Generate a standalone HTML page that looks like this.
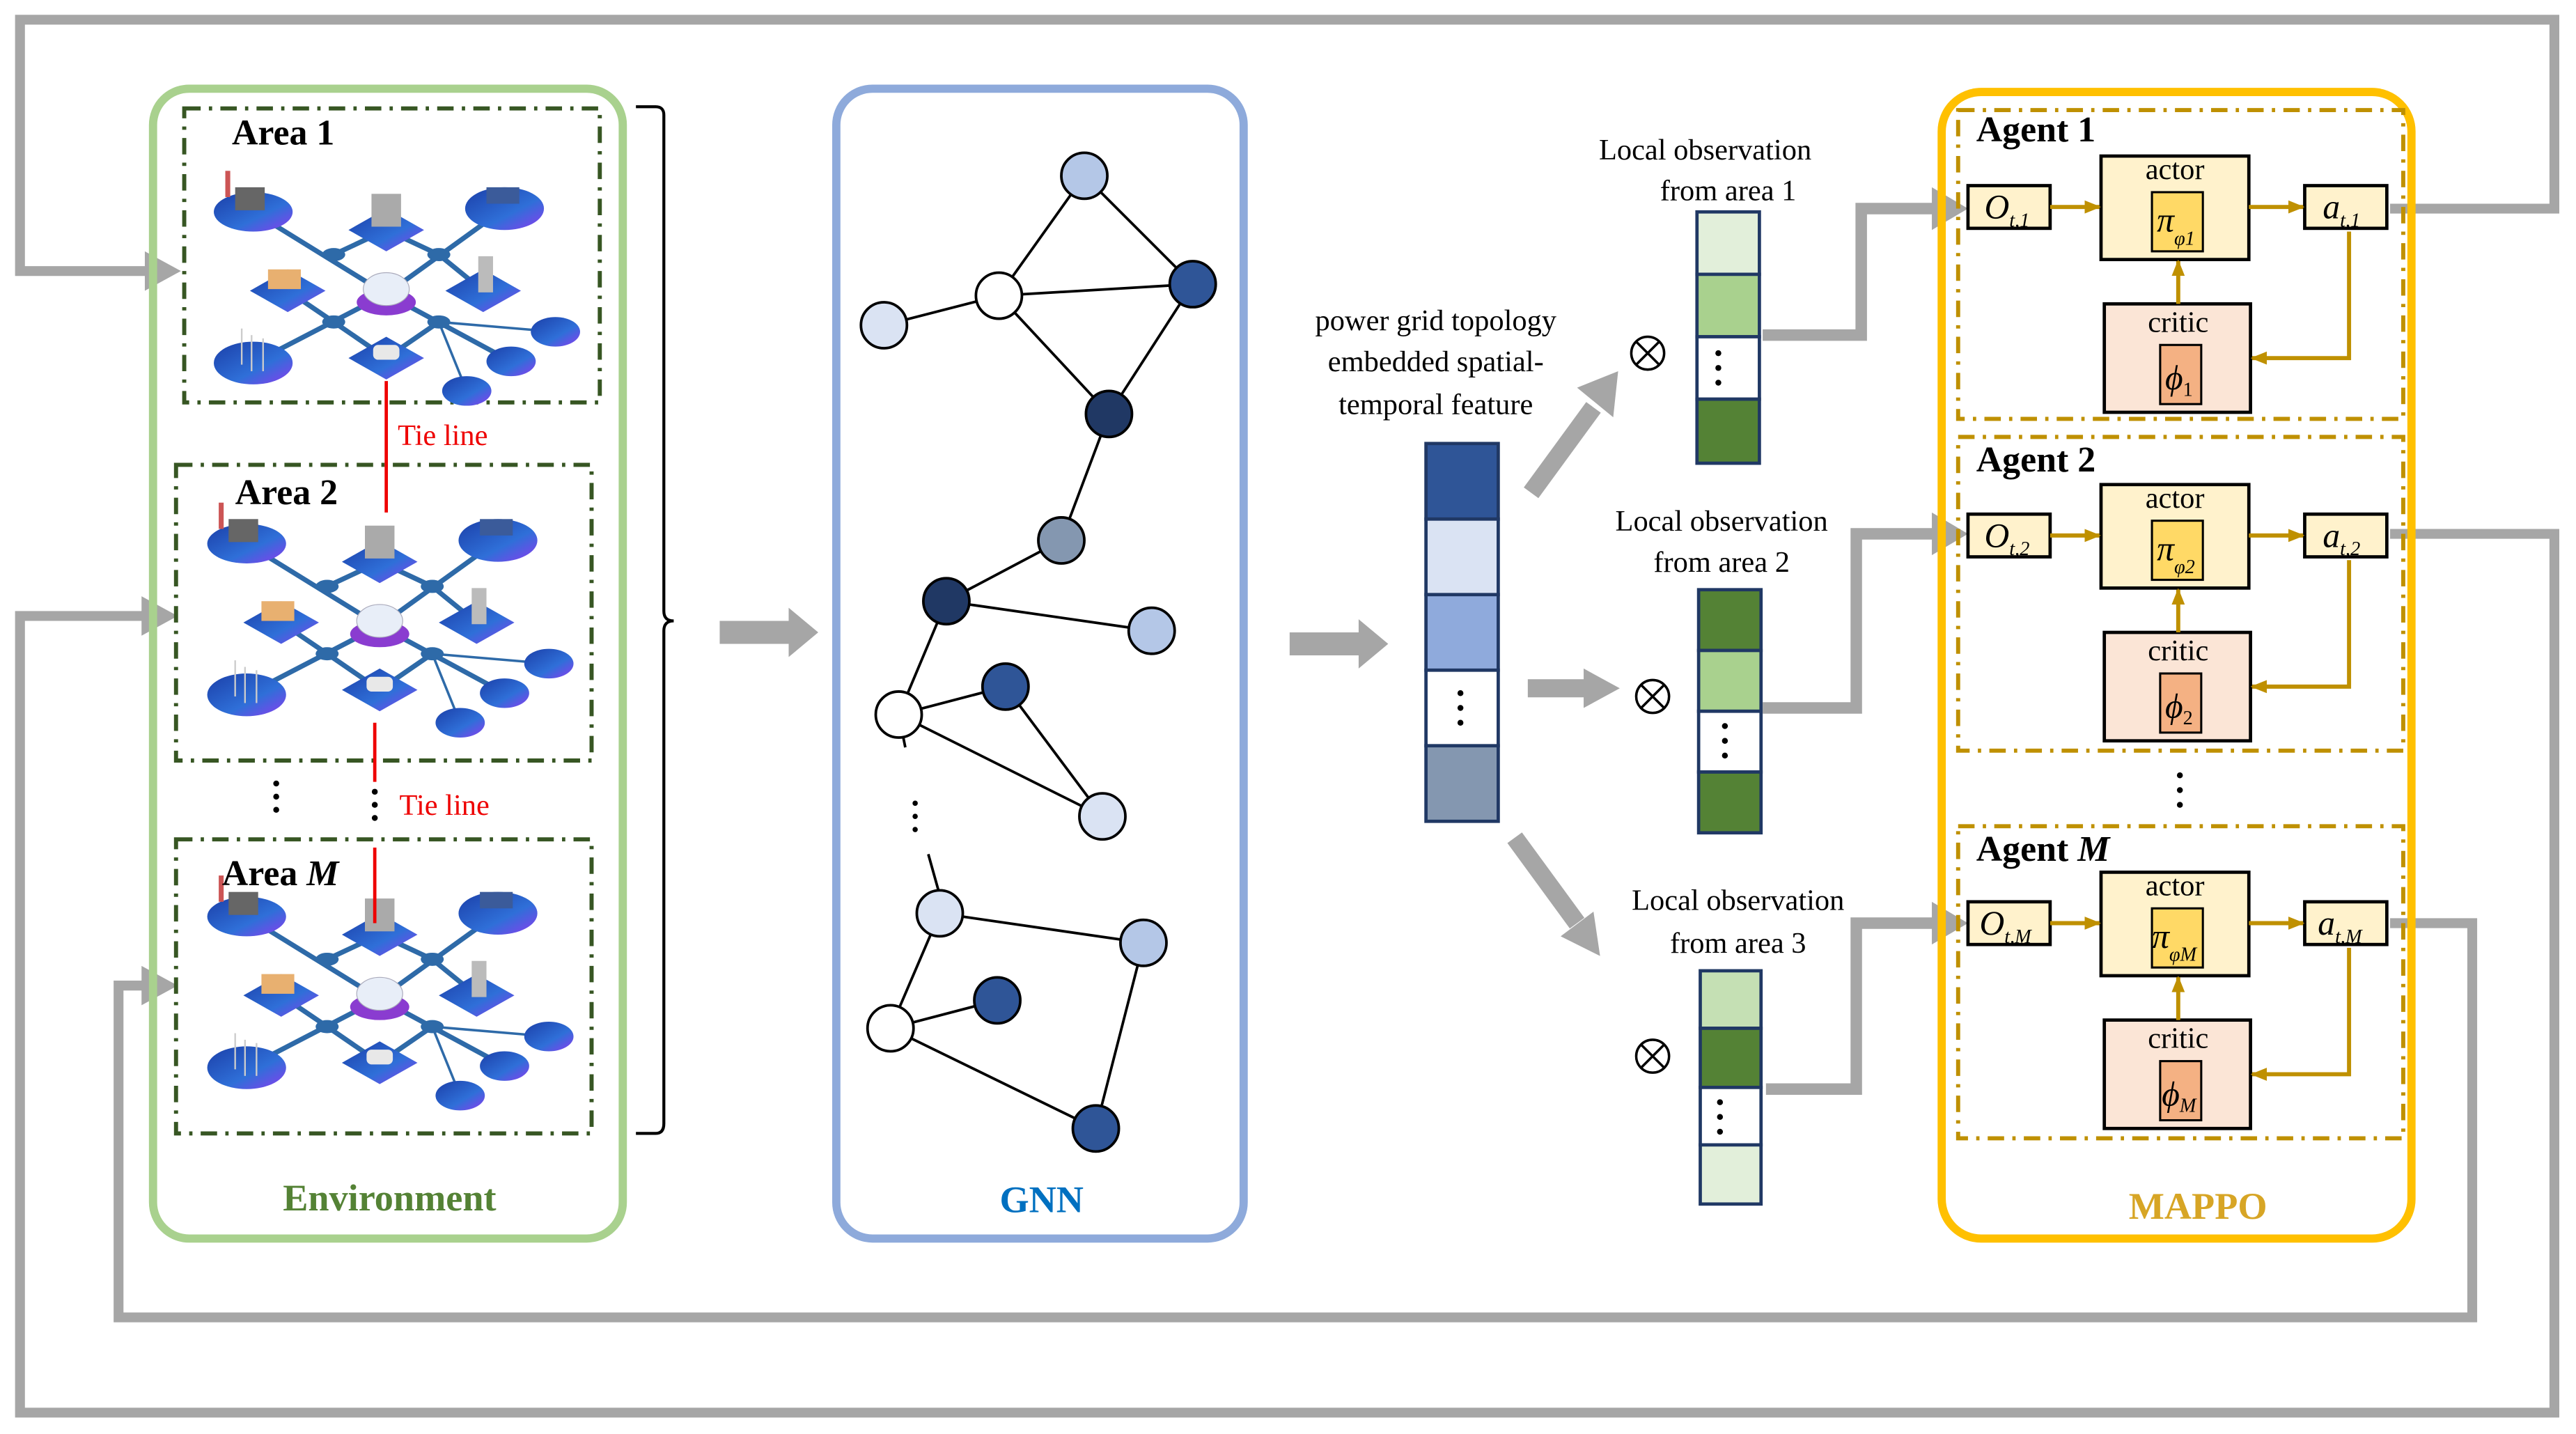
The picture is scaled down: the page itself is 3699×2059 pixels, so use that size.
<!DOCTYPE html>
<html><head><meta charset="utf-8"><style>
html,body{margin:0;padding:0;background:#fff}
svg{display:block;font-family:"Liberation Serif","Times New Roman",serif}
svg text{font-family:"Liberation Serif","Times New Roman",serif}
</style></head><body>
<svg width="3699" height="2059" viewBox="0 0 1568 873" xmlns="http://www.w3.org/2000/svg" font-family="Liberation Serif, serif">
<defs>
<marker id="yA" markerWidth="10" markerHeight="10" refX="9" refY="5" orient="auto" markerUnits="userSpaceOnUse" viewBox="0 0 10 10"><path d="M0,1 L10,5 L0,9z" fill="#bf9000"/></marker>
<linearGradient id="bl" x1="0" y1="0" x2="1" y2="1"><stop offset="0" stop-color="#1b3fa8"/><stop offset="0.6" stop-color="#2f6fd8"/><stop offset="1" stop-color="#8a3cf0"/></linearGradient>
<g id="city">
 <g stroke="#2e6aa8" stroke-width="3">
  <line x1="31" y1="29" x2="112" y2="79"/><line x1="184" y1="27" x2="112" y2="79"/>
  <line x1="31" y1="121" x2="112" y2="79"/><line x1="112" y1="79" x2="188" y2="120"/>
  <line x1="112" y1="40" x2="80" y2="55"/><line x1="112" y1="40" x2="144" y2="55"/>
  <line x1="52" y1="77" x2="80" y2="96"/><line x1="171" y1="77" x2="144" y2="55"/>
  <line x1="112" y1="118" x2="80" y2="96"/><line x1="112" y1="118" x2="144" y2="96"/>
 </g>
 <g stroke="#2e6aa8" stroke-width="1.5"><line x1="144" y1="96" x2="215" y2="102"/><line x1="144" y1="96" x2="161" y2="138"/></g>
 <ellipse cx="31" cy="29" rx="24" ry="12" fill="url(#bl)"/>
 <ellipse cx="184" cy="27" rx="24" ry="13" fill="url(#bl)"/>
 <ellipse cx="31" cy="121" rx="24" ry="13" fill="url(#bl)"/>
 <ellipse cx="215" cy="102" rx="15" ry="9" fill="url(#bl)"/>
 <ellipse cx="188" cy="120" rx="15" ry="9" fill="url(#bl)"/>
 <ellipse cx="161" cy="138" rx="15" ry="9" fill="url(#bl)"/>
 <path d="M89,40 L112,27 L135,40 L112,53z" fill="url(#bl)"/>
 <path d="M29,77 L52,64 L75,77 L52,90z" fill="url(#bl)"/>
 <path d="M148,77 L171,64 L194,77 L171,90z" fill="url(#bl)"/>
 <path d="M89,118 L112,105 L135,118 L112,131z" fill="url(#bl)"/>
 <g fill="#2e6aa8"><ellipse cx="80" cy="55" rx="7" ry="4"/><ellipse cx="144" cy="55" rx="7" ry="4"/><ellipse cx="80" cy="96" rx="7" ry="4"/><ellipse cx="144" cy="96" rx="7" ry="4"/></g>
 <rect x="20" y="14" width="18" height="14" fill="#666"/><rect x="14" y="4" width="3" height="16" fill="#c55"/>
 <rect x="103" y="18" width="18" height="20" fill="#aaa"/>
 <rect x="168" y="56" width="9" height="22" fill="#bbb"/>
 <rect x="40" y="64" width="20" height="12" fill="#e8b070"/>
 <rect x="173" y="14" width="20" height="10" fill="#3b5b9a"/>
 <ellipse cx="112" cy="84" rx="18" ry="8" fill="#8a3cd0"/>
 <ellipse cx="112" cy="76" rx="14" ry="10" fill="#e8eef8" stroke="#aab" stroke-width="0.5"/>
 <rect x="104" y="110" width="16" height="9" rx="3" fill="#e8e8e8"/>
 <g stroke="#ccc" stroke-width="1"><line x1="24" y1="100" x2="24" y2="122"/><line x1="30" y1="104" x2="30" y2="126"/><line x1="37" y1="106" x2="37" y2="126"/></g>
</g>
</defs>

<g fill="none" stroke="#a6a6a6" stroke-width="6">
 <polyline points="1455,127 1555,127 1555,12 12,12 12,165 92,165"/>
 <polyline points="1455,325 1555,325 1555,860 12,860 12,375 90,375"/>
 <polyline points="1455,562 1505,562 1505,802 72,802 72,600 90,600"/>
</g>
<g fill="#a6a6a6">
 <path d="M88,153 L110,165 L88,177z"/><path d="M86,363 L108,375 L86,387z"/><path d="M86,588 L108,600 L86,612z"/>
</g>

<rect x="93" y="54" width="286" height="700" rx="22" fill="none" stroke="#a9d18e" stroke-width="5"/>
<g fill="none" stroke="#375623" stroke-width="2.5" stroke-dasharray="10,5,2,5">
 <rect x="112" y="66" width="253" height="179"/>
 <rect x="107" y="283" width="253" height="180"/>
 <rect x="107" y="511" width="253" height="179"/>
</g>
<use href="#city" x="123" y="100"/>
<use href="#city" x="119" y="302"/>
<use href="#city" x="119" y="529"/>
<text x="141" y="88" font-size="22" font-weight="bold">Area 1</text>
<text x="143" y="307" font-size="22" font-weight="bold">Area 2</text>
<text x="135" y="539" font-size="22" font-weight="bold">Area <tspan font-style="italic">M</tspan></text>
<g stroke="#e00" stroke-width="2"><line x1="235" y1="232" x2="235" y2="312"/><line x1="228" y1="440" x2="228" y2="476"/><line x1="228" y1="516" x2="228" y2="562"/></g>
<text x="242" y="271" font-size="18" fill="#e00">Tie line</text>
<text x="243" y="496" font-size="18" fill="#e00">Tie line</text>
<g fill="#000"><circle cx="168" cy="477" r="1.8"/><circle cx="168" cy="485" r="1.8"/><circle cx="168" cy="493" r="1.8"/>
<circle cx="228" cy="482" r="1.8"/><circle cx="228" cy="490" r="1.8"/><circle cx="228" cy="498" r="1.8"/></g>
<text x="237" y="737" font-size="23" font-weight="bold" fill="#548235" text-anchor="middle">Environment</text>
<path d="M387,65 L399,65 Q404,65 404,70 L404,372 Q404,378 410,378 Q404,378 404,384 L404,684 Q404,690 399,690 L387,690" fill="none" stroke="#000" stroke-width="1.8"/>

<path d="M438,378 L480,378 L480,370 L498,385 L480,400 L480,392 L438,392z" fill="#a6a6a6"/>

<rect x="509" y="54" width="248" height="700" rx="22" fill="none" stroke="#8eaadb" stroke-width="5"/>
<g stroke="#000" stroke-width="1.6">
 <line x1="660" y1="107" x2="608" y2="180"/><line x1="660" y1="107" x2="726" y2="173"/>
 <line x1="608" y1="180" x2="538" y2="198"/><line x1="608" y1="180" x2="726" y2="173"/>
 <line x1="608" y1="180" x2="675" y2="252"/><line x1="726" y1="173" x2="675" y2="252"/>
 <line x1="675" y1="252" x2="646" y2="329"/><line x1="646" y1="329" x2="576" y2="366"/>
 <line x1="576" y1="366" x2="701" y2="384"/><line x1="576" y1="366" x2="547" y2="435"/>
 <line x1="547" y1="435" x2="612" y2="418"/><line x1="547" y1="435" x2="671" y2="497"/>
 <line x1="612" y1="418" x2="671" y2="497"/><line x1="547" y1="435" x2="551" y2="455"/>
 <line x1="565" y1="520" x2="572" y2="545"/>
 <line x1="572" y1="556" x2="696" y2="574"/><line x1="572" y1="556" x2="542" y2="626"/>
 <line x1="542" y1="626" x2="607" y2="609"/><line x1="542" y1="626" x2="667" y2="687"/>
 <line x1="696" y1="574" x2="667" y2="687"/>
</g>
<g fill="#000"><circle cx="557" cy="489" r="1.6"/><circle cx="557" cy="497" r="1.6"/><circle cx="557" cy="505" r="1.6"/></g>
<g stroke="#000" stroke-width="1.6">
 <circle cx="660" cy="107" r="14" fill="#b4c7e7"/><circle cx="608" cy="180" r="14" fill="#fff"/>
 <circle cx="538" cy="198" r="14" fill="#dae3f3"/><circle cx="726" cy="173" r="14" fill="#2f5597"/>
 <circle cx="675" cy="252" r="14" fill="#203864"/><circle cx="646" cy="329" r="14" fill="#8497b0"/>
 <circle cx="576" cy="366" r="14" fill="#203864"/><circle cx="701" cy="384" r="14" fill="#b4c7e7"/>
 <circle cx="547" cy="435" r="14" fill="#fff"/><circle cx="612" cy="418" r="14" fill="#2f5597"/>
 <circle cx="671" cy="497" r="14" fill="#dae3f3"/><circle cx="572" cy="556" r="14" fill="#dae3f3"/>
 <circle cx="696" cy="574" r="14" fill="#b4c7e7"/><circle cx="542" cy="626" r="14" fill="#fff"/>
 <circle cx="607" cy="609" r="14" fill="#2f5597"/><circle cx="667" cy="687" r="14" fill="#2f5597"/>
</g>
<text x="634" y="738" font-size="23" font-weight="bold" fill="#0070c0" text-anchor="middle">GNN</text>

<path d="M785,385 L827,385 L827,377 L845,392 L827,407 L827,399 L785,399z" fill="#a6a6a6"/>

<text font-size="18" text-anchor="middle"><tspan x="874" y="201">power grid topology</tspan><tspan x="874" y="226">embedded spatial-</tspan><tspan x="874" y="252">temporal feature</tspan></text>
<g stroke="#203864" stroke-width="2">
 <rect x="868" y="270" width="44" height="46" fill="#2f5597"/>
 <rect x="868" y="316" width="44" height="46" fill="#dae3f3"/>
 <rect x="868" y="362" width="44" height="46" fill="#8faadc"/>
 <rect x="868" y="408" width="44" height="46" fill="#fff"/>
 <rect x="868" y="454" width="44" height="46" fill="#8497b0"/>
</g>
<g fill="#000"><circle cx="889" cy="422" r="1.8"/><circle cx="889" cy="431" r="1.8"/><circle cx="889" cy="440" r="1.8"/></g>

<g stroke="#a6a6a6" stroke-width="11" fill="none"><line x1="932" y1="300" x2="970" y2="248"/><line x1="930" y1="419" x2="968" y2="419"/><line x1="922" y1="510" x2="960" y2="562"/></g>
<g fill="#a6a6a6"><path d="M960,236 L985,226 L982,254z"/><path d="M964,407 L986,419 L964,431z"/><path d="M950,570 L974,582 L970,555z"/></g>

<g fill="none" stroke="#000" stroke-width="1.5">
 <circle cx="1003" cy="215" r="10"/><path d="M996,208 L1010,222 M1010,208 L996,222"/>
 <circle cx="1006" cy="424" r="10"/><path d="M999,417 L1013,431 M1013,417 L999,431"/>
 <circle cx="1006" cy="643" r="10"/><path d="M999,636 L1013,650 M1013,636 L999,650"/>
</g>

<g font-size="18" text-anchor="middle">
 <text x="1038" y="97">Local observation</text><text x="1052" y="122">from area 1</text>
 <text x="1048" y="323">Local observation</text><text x="1048" y="348">from area 2</text>
 <text x="1058" y="554">Local observation</text><text x="1058" y="580">from area 3</text>
</g>
<g stroke="#203864" stroke-width="2">
 <rect x="1033" y="129" width="38" height="38" fill="#e2efda"/><rect x="1033" y="167" width="38" height="38" fill="#a9d18e"/>
 <rect x="1033" y="205" width="38" height="38" fill="#fff"/><rect x="1033" y="243" width="38" height="39" fill="#548235"/>
 <rect x="1034" y="359" width="38" height="37" fill="#548235"/><rect x="1034" y="396" width="38" height="37" fill="#a9d18e"/>
 <rect x="1034" y="433" width="38" height="37" fill="#fff"/><rect x="1034" y="470" width="38" height="37" fill="#548235"/>
 <rect x="1035" y="591" width="37" height="35" fill="#c5e0b4"/><rect x="1035" y="626" width="37" height="36" fill="#548235"/>
 <rect x="1035" y="662" width="37" height="35" fill="#fff"/><rect x="1035" y="697" width="37" height="36" fill="#e2efda"/>
</g>
<g fill="#000">
 <circle cx="1046" cy="215" r="1.8"/><circle cx="1046" cy="224" r="1.8"/><circle cx="1046" cy="233" r="1.8"/>
 <circle cx="1050" cy="442" r="1.8"/><circle cx="1050" cy="451" r="1.8"/><circle cx="1050" cy="460" r="1.8"/>
 <circle cx="1047" cy="671" r="1.8"/><circle cx="1047" cy="680" r="1.8"/><circle cx="1047" cy="689" r="1.8"/>
</g>
<g fill="none" stroke="#a6a6a6" stroke-width="7">
 <polyline points="1073,204 1133,204 1133,127 1180,127"/>
 <polyline points="1073,431 1130,431 1130,325 1180,325"/>
 <polyline points="1075,663 1130,663 1130,562 1180,562"/>
</g>
<g fill="#a6a6a6"><path d="M1176,114 L1198,127 L1176,140z"/><path d="M1176,312 L1198,325 L1176,338z"/><path d="M1176,549 L1198,562 L1176,575z"/></g>

<rect x="1182" y="56" width="286" height="698" rx="24" fill="none" stroke="#ffc000" stroke-width="5"/>
<g fill="none" stroke="#bf9000" stroke-width="2.5" stroke-dasharray="10,5,2,5">
 <rect x="1192" y="67" width="271" height="188"/>
 <rect x="1192" y="266" width="271" height="191"/>
 <rect x="1192" y="503" width="271" height="190"/>
</g>
<g fill="#000"><circle cx="1327" cy="472" r="1.8"/><circle cx="1327" cy="481" r="1.8"/><circle cx="1327" cy="490" r="1.8"/></g>
<text x="1338" y="742" font-size="23" font-weight="bold" fill="#d7a525" text-anchor="middle">MAPPO</text>

<g id="ag1">
 <g stroke="#000" stroke-width="2">
  <rect x="1198" y="113" width="50" height="26" fill="#fff2cc"/>
  <rect x="1279" y="95" width="90" height="63" fill="#fff2cc"/>
  <rect x="1310" y="117" width="31" height="36" fill="#ffd966" stroke-width="1.3"/>
  <rect x="1403" y="113" width="50" height="26" fill="#fff2cc"/>
  <rect x="1281" y="185" width="89" height="66" fill="#fbe5d6"/>
  <rect x="1315" y="210" width="25" height="36" fill="#f4b183" stroke-width="1.3"/>
 </g>
 <g stroke="#bf9000" stroke-width="2.5" fill="none">
  <line x1="1248" y1="126" x2="1278" y2="126" marker-end="url(#yA)"/>
  <line x1="1369" y1="126" x2="1402" y2="126" marker-end="url(#yA)"/>
  <line x1="1326" y1="185" x2="1326" y2="159" marker-end="url(#yA)"/>
  <polyline points="1430,141 1430,218 1371,218" marker-end="url(#yA)"/>
 </g>
 <text x="1324" y="109" font-size="18" text-anchor="middle">actor</text>
 <text x="1326" y="202" font-size="18" text-anchor="middle">critic</text>
</g>
<use href="#ag1" x="0" y="200"/>
<use href="#ag1" x="0" y="436"/>
<text x="1203" y="86" font-size="22" font-weight="bold">Agent 1</text>
<text x="1203" y="287" font-size="22" font-weight="bold">Agent 2</text>
<text x="1203" y="524" font-size="22" font-weight="bold">Agent <tspan font-style="italic">M</tspan></text>
<g font-style="italic">
 <text x="1208" y="133" font-size="21">O<tspan font-size="12" dy="5">t,1</tspan></text>
 <text x="1313" y="141" font-size="21">π<tspan font-size="12" dy="8">φ1</tspan></text>
 <text x="1414" y="133" font-size="21">a<tspan font-size="12" dy="5">t,1</tspan></text>
 <text x="1318" y="237" font-size="21">ϕ<tspan font-size="12" dy="4" font-style="normal">1</tspan></text>
 <text x="1208" y="333" font-size="21">O<tspan font-size="12" dy="5">t,2</tspan></text>
 <text x="1313" y="341" font-size="21">π<tspan font-size="12" dy="8">φ2</tspan></text>
 <text x="1414" y="333" font-size="21">a<tspan font-size="12" dy="5">t,2</tspan></text>
 <text x="1318" y="437" font-size="21">ϕ<tspan font-size="12" dy="4" font-style="normal">2</tspan></text>
 <text x="1205" y="569" font-size="21">O<tspan font-size="12" dy="5">t,M</tspan></text>
 <text x="1310" y="577" font-size="21">π<tspan font-size="12" dy="8">φM</tspan></text>
 <text x="1411" y="569" font-size="21">a<tspan font-size="12" dy="5">t,M</tspan></text>
 <text x="1316" y="673" font-size="21">ϕ<tspan font-size="12" dy="4">M</tspan></text>
</g>
</svg>
</body></html>
